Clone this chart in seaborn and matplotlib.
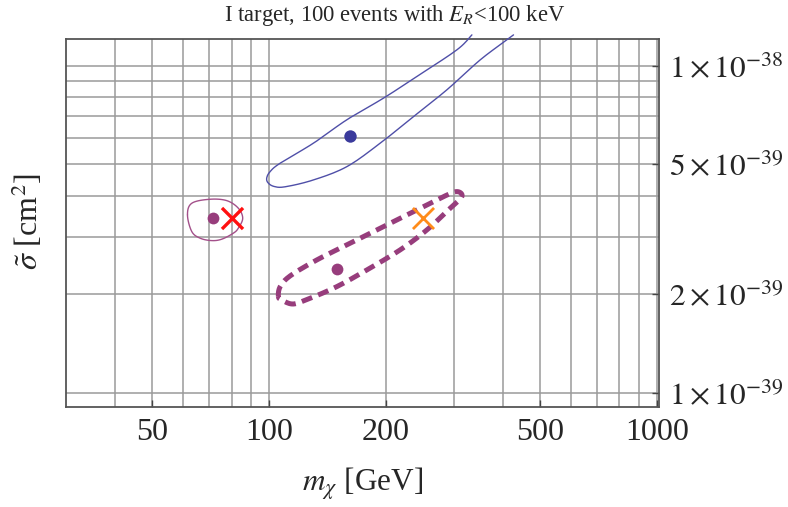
import numpy as np
import matplotlib
matplotlib.use("Agg")
import matplotlib.pyplot as plt
import seaborn as sns
from matplotlib.ticker import FixedLocator, NullFormatter

# Best-fit points (mass in GeV, cross section in cm^2)
fit_blue_mass = [162.0]
fit_blue_sigma = [6.1e-39]
fit_purple_mass = [71.5, 150.0]
fit_purple_sigma = [3.41e-39, 2.39e-39]

# True benchmark points
true_red_mass = [80.0]
true_red_sigma = [3.41e-39]
true_orange_mass = [250.0]
true_orange_sigma = [3.42e-39]

# Contour around the blue best fit (open, leaves through the top)
blue_mass = [333.3, 304.9, 240.4, 197.2, 158.7, 130.1, 106.8, 100.6, 98.6, 99.4,
             103.0, 110.0, 130.1, 158.7, 193.4, 235.6, 287.3, 350.2, 410.3, 426.7]
blue_sigma = [1.241e-38, 1.117e-38, 9.26e-39, 7.95e-39, 6.83e-39, 5.79e-39, 5.03e-39,
              4.74e-39, 4.53e-39, 4.38e-39, 4.27e-39, 4.26e-39, 4.47e-39, 4.91e-39,
              5.79e-39, 6.98e-39, 8.43e-39, 1.041e-38, 1.198e-38, 1.241e-38]

# Dashed contour around the lower purple best fit (closed)
dash_mass = [105.7, 106.8, 113.3, 132.7, 161.8, 197.2, 240.4, 281.6, 304.9, 314.0,
             293.1, 255.2, 217.7, 178.6, 149.5, 127.6, 115.5, 107.8]
dash_sigma = [1.966e-39, 2.11e-39, 2.275e-39, 2.545e-39, 2.863e-39, 3.219e-39, 3.62e-39,
              3.975e-39, 4.118e-39, 3.975e-39, 3.664e-39, 3.145e-39, 2.732e-39, 2.372e-39,
              2.11e-39, 1.944e-39, 1.867e-39, 1.92e-39]

# Small solid contour around the left purple best fit (closed)
pink_mass = [61.6, 63.2, 70.4, 77.8, 83.3, 85.5, 83.3, 80.9, 75.5, 71.1, 66.4, 63.2]
pink_sigma = [3.495e-39, 3.794e-39, 3.902e-39, 3.864e-39, 3.664e-39, 3.414e-39, 3.184e-39,
              3.074e-39, 2.946e-39, 2.917e-39, 2.967e-39, 3.108e-39]

# Axis ticks
x_major = [50, 100, 200, 500, 1000]
x_major_labels = ["50", "100", "200", "500", "1000"]
x_minor = [40, 60, 70, 80, 90, 300, 400, 600, 700, 800, 900]
y_major = [1e-39, 2e-39, 5e-39, 1e-38]
y_major_labels = [r"$1\times10^{-39}$", r"$2\times10^{-39}$",
                  r"$5\times10^{-39}$", r"$1\times10^{-38}$"]
y_minor = [3e-39, 4e-39, 6e-39, 7e-39, 8e-39, 9e-39]


def smooth_outline(xs, ys, closed, steps=10):
    """Catmull-Rom curve through outline vertices, drawn in log-log space."""
    lx, ly = np.log10(xs), np.log10(ys)
    n = len(lx)
    if closed:
        idx = [(i + k) % n for i in range(n) for k in (-1, 0, 1, 2)]
        segs = n
    else:
        lx = np.concatenate([[lx[0]], lx, [lx[-1]]])
        ly = np.concatenate([[ly[0]], ly, [ly[-1]]])
        idx = [i + k for i in range(n - 1) for k in (0, 1, 2, 3)]
        segs = n - 1
    t = np.linspace(0, 1, steps, endpoint=False)[:, None]
    out_x, out_y = [], []
    for s in range(segs):
        p = idx[4 * s:4 * s + 4]
        for arr, out in ((lx, out_x), (ly, out_y)):
            p0, p1, p2, p3 = arr[p[0]], arr[p[1]], arr[p[2]], arr[p[3]]
            v = 0.5 * (2 * p1 + (-p0 + p2) * t + (2 * p0 - 5 * p1 + 4 * p2 - p3) * t ** 2
                       + (-p0 + 3 * p1 - 3 * p2 + p3) * t ** 3)
            out.extend(v.ravel())
    if closed:
        out_x.append(out_x[0]); out_y.append(out_y[0])
    else:
        out_x.append(lx[-2]); out_y.append(ly[-2])
    return 10 ** np.array(out_x), 10 ** np.array(out_y)


sns.set_style("white")
plt.rcParams["font.family"] = ["Liberation Serif", "DejaVu Serif"]
plt.rcParams["mathtext.fontset"] = "stix"

fig = plt.figure(figsize=(7.88, 5.07), dpi=100)
ax = fig.add_axes([0.0834, 0.1978, 0.7533, 0.7247])
ax.set_xscale("log")
ax.set_yscale("log")

BLUE = "#4f4fa8"
PURPLE = "#973d7c"

bx, by = smooth_outline(blue_mass, blue_sigma, closed=False)
px, py = smooth_outline(pink_mass, pink_sigma, closed=True)
dx, dy = smooth_outline(dash_mass, dash_sigma, closed=True)

sns.lineplot(x=bx, y=by, sort=False, estimator=None, ax=ax,
             color=BLUE, lw=1.0, clip_on=False, zorder=3)
sns.lineplot(x=px, y=py, sort=False, estimator=None, ax=ax,
             color="#a3508a", lw=1.0, zorder=3)
sns.lineplot(x=dx, y=dy, sort=False, estimator=None, ax=ax,
             color=PURPLE, lw=3.6, linestyle=(0, (2.2, 1.3)), zorder=3)

sns.scatterplot(x=fit_blue_mass, y=fit_blue_sigma, ax=ax, color="#3a3a9c",
                s=80, linewidth=0, zorder=4)
sns.scatterplot(x=fit_purple_mass, y=fit_purple_sigma, ax=ax, color=PURPLE,
                s=72, linewidth=0, zorder=4)
sns.scatterplot(x=true_red_mass, y=true_red_sigma, ax=ax, color="#ff1010",
                marker="x", s=230, linewidth=2.4, zorder=5)
sns.scatterplot(x=true_orange_mass, y=true_orange_sigma, ax=ax, color="#ff8c1a",
                marker="x", s=230, linewidth=2.0, zorder=5)

ax.set_xlim(29.9, 1014)
ax.set_ylim(0.906e-39, 1.203e-38)

ax.xaxis.set_major_locator(FixedLocator(x_major))
ax.xaxis.set_minor_locator(FixedLocator(x_minor))
ax.set_xticklabels(x_major_labels)
ax.xaxis.set_minor_formatter(NullFormatter())
ax.yaxis.set_major_locator(FixedLocator(y_major))
ax.yaxis.set_minor_locator(FixedLocator(y_minor))
ax.set_yticklabels(y_major_labels)
ax.yaxis.set_minor_formatter(NullFormatter())

ax.grid(True, which="both", color="#9a9a9a", lw=1.1)
ax.set_axisbelow(True)

for sp in ax.spines.values():
    sp.set_visible(True)
    sp.set_color("#555555")
    sp.set_linewidth(1.3)

ax.tick_params(axis="x", which="major", direction="in", length=5, width=1,
               color="#444444", bottom=True, top=False, labelsize=23, pad=8)
ax.tick_params(axis="y", which="major", direction="in", length=5, width=1,
               color="#444444", left=False, right=True, labelleft=False,
               labelright=True, labelsize=22.5, pad=7)
ax.tick_params(which="minor", length=0)

ax.set_xlabel(r"$m_\chi$ [GeV]", fontsize=22.5)
ax.xaxis.set_label_coords(0.5, -0.162)
ax.set_ylabel(r"$\tilde{\sigma}$ [cm$^2$]", fontsize=23)
ax.yaxis.set_label_position("left")
ax.yaxis.set_label_coords(-0.035, 0.505)

fig.text(395 / 788, 1 - 15 / 507, r"I target, 100 events with $E_R$<100 keV",
         ha="center", va="center", fontsize=16.3)

fig.savefig("out.png", dpi=100)
